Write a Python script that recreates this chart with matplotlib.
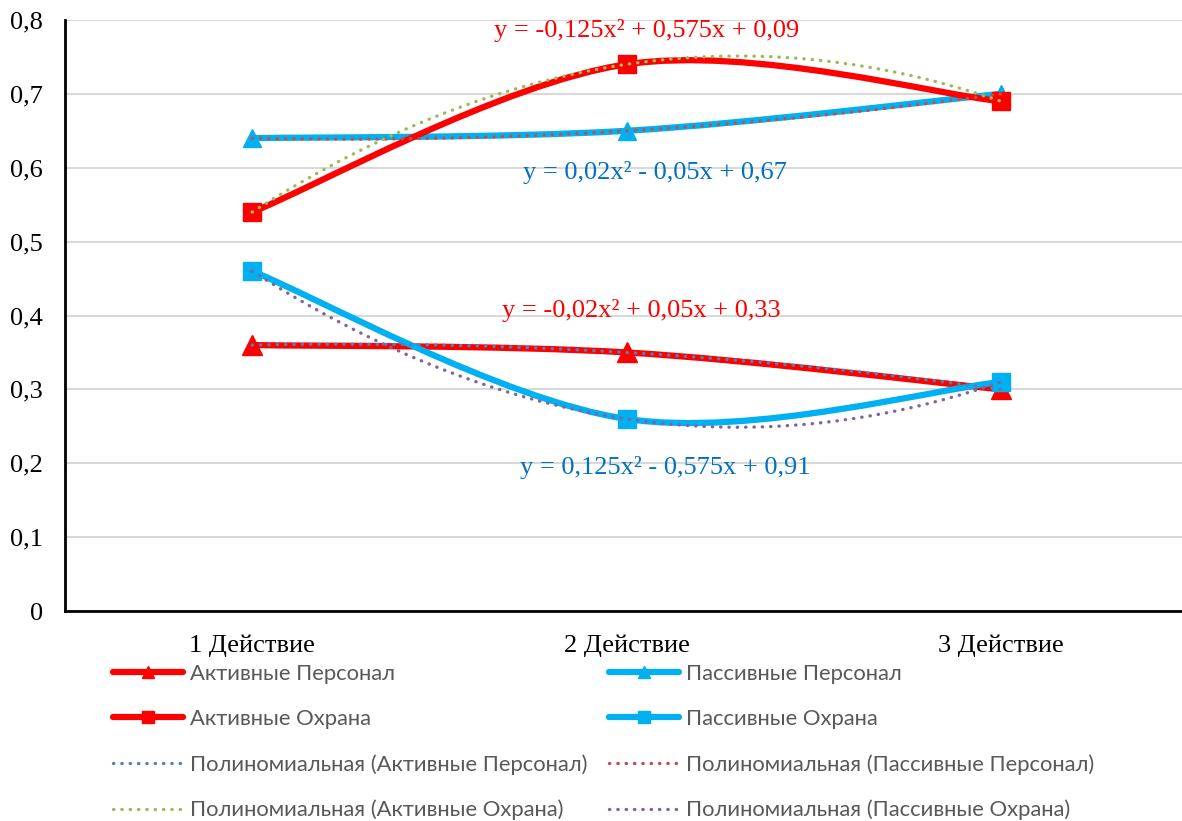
import numpy as np
import matplotlib
matplotlib.use('Agg')
import matplotlib.pyplot as plt
from matplotlib.path import Path
from matplotlib.patches import PathPatch
from matplotlib.lines import Line2D
from matplotlib.ticker import FuncFormatter

categories = ['1 Действие', '2 Действие', '3 Действие']
act_staff = [0.36, 0.35, 0.30]
pas_staff = [0.64, 0.65, 0.70]
act_guard = [0.54, 0.74, 0.69]
pas_guard = [0.46, 0.26, 0.31]

names = ['Активные Персонал', 'Пассивные Персонал', 'Активные Охрана', 'Пассивные Охрана']
equations = ['y = -0,02x² + 0,05x + 0,33', 'y = 0,02x² - 0,05x + 0,67',
             'y = -0,125x² + 0,575x + 0,09', 'y = 0,125x² - 0,575x + 0,91']

RED = '#FF0000'
BLUE = '#00B0F0'
serif = 'Liberation Serif'
sans = 'Lato'


def smooth_path(x, y):
    # excel style smoothed line: bezier through points
    pts = np.column_stack([x, y]).astype(float)
    n = len(pts)
    verts = [pts[0]]
    codes = [Path.MOVETO]
    for i in range(n - 1):
        p_prev = pts[i - 1] if i > 0 else pts[i]
        p_next = pts[i + 2] if i + 2 < n else pts[i + 1]
        c1 = pts[i] + (pts[i + 1] - p_prev) / 6
        c2 = pts[i + 1] - (p_next - pts[i]) / 6
        verts += [c1, c2, pts[i + 1]]
        codes += [Path.CURVE4] * 3
    return Path(verts, codes)


fig = plt.figure(figsize=(11.82, 8.21), dpi=100)
ax = fig.add_axes([65 / 1182, 1 - 611 / 821, 1123 / 1182, 591 / 821])

x = np.arange(1, 4)
series = [act_staff, pas_staff, act_guard, pas_guard]
colors = [RED, BLUE, RED, BLUE]
markers = ['^', '^', 's', 's']
msizes = [15, 13, 13, 13]
trend_colors = ['#4F81BD', '#C0504D', '#9BBB59', '#8064A2']

for vals, c, m, ms in zip(series, colors, markers, msizes):
    patch = PathPatch(smooth_path(x, vals), facecolor='none', edgecolor=c, lw=4.5,
                      capstyle='round', joinstyle='round', zorder=3)
    ax.add_patch(patch)
    ax.plot(x, vals, linestyle='none', marker=m, markersize=ms, color=c, zorder=4)

xs = np.linspace(1, 3, 200)
for vals, tc in zip(series, trend_colors):
    coef = np.polyfit(x, vals, 2)
    ax.plot(xs, np.polyval(coef, xs), color=tc, lw=2.4, linestyle=(0, (0.1, 2.4)),
            dash_capstyle='round', zorder=5)

# equation labels
eq_pos = [(2.04, 0.407, RED), (2.076, 0.594, '#0070C0'),
          (2.055, 0.786, RED), (2.103, 0.194, '#0070C0')]
for eq, (ex, ey, ec) in zip(equations, eq_pos):
    ax.text(ex, ey, eq, color=ec, fontsize=19, family=serif, ha='center', va='center', zorder=6)

ax.set_xlim(0.5, 3.5)
ax.set_ylim(0, 0.8)
ax.set_xticks(x)
ax.set_xticklabels(categories, family=serif, fontsize=19)
ax.set_yticks(np.arange(0, 0.81, 0.1))
ax.yaxis.set_major_formatter(FuncFormatter(lambda v, p: '0' if abs(v) < 1e-9 else f'{v:.1f}'.replace('.', ',')))
for lbl in ax.get_yticklabels():
    lbl.set_family(serif)
    lbl.set_fontsize(19)
ax.tick_params(axis='both', length=0)
ax.tick_params(axis='y', pad=16)
ax.tick_params(axis='x', pad=17)
ax.grid(axis='y', color='#D9D9D9', lw=1.5)
ax.set_axisbelow(True)
for s in ['top', 'right']:
    ax.spines[s].set_visible(False)
for s in ['left', 'bottom']:
    ax.spines[s].set_linewidth(2)
    ax.spines[s].set_color('black')

# legend, two columns
def main_handle(c, m):
    return Line2D([], [], color=c, lw=4.5, marker=m, markersize=9, solid_capstyle='round')


def trend_handle(c):
    return Line2D([], [], color=c, lw=2.4, linestyle=(0, (0.1, 2.4)), dash_capstyle='round')


col1 = [main_handle(RED, '^'), main_handle(RED, 's'), trend_handle(trend_colors[0]), trend_handle(trend_colors[2])]
col1_lbl = [names[0], names[2], 'Полиномиальная (' + names[0] + ')', 'Полиномиальная (' + names[2] + ')']
col2 = [main_handle(BLUE, '^'), main_handle(BLUE, 's'), trend_handle(trend_colors[1]), trend_handle(trend_colors[3])]
col2_lbl = [names[1], names[3], 'Полиномиальная (' + names[1] + ')', 'Полиномиальная (' + names[3] + ')']

for hs, ls, x0 in [(col1, col1_lbl, 113), (col2, col2_lbl, 609)]:
    leg = fig.legend(hs, ls, loc='upper left', bbox_to_anchor=(x0 / 1182, 1 - 664 / 821),
                     frameon=False, prop={'family': sans, 'size': 15.8}, handlelength=3.2,
                     handletextpad=0.3, labelspacing=1.14, borderpad=0, borderaxespad=0)
    for t in leg.get_texts():
        t.set_color('#595959')

fig.savefig('out.png', dpi=100)
